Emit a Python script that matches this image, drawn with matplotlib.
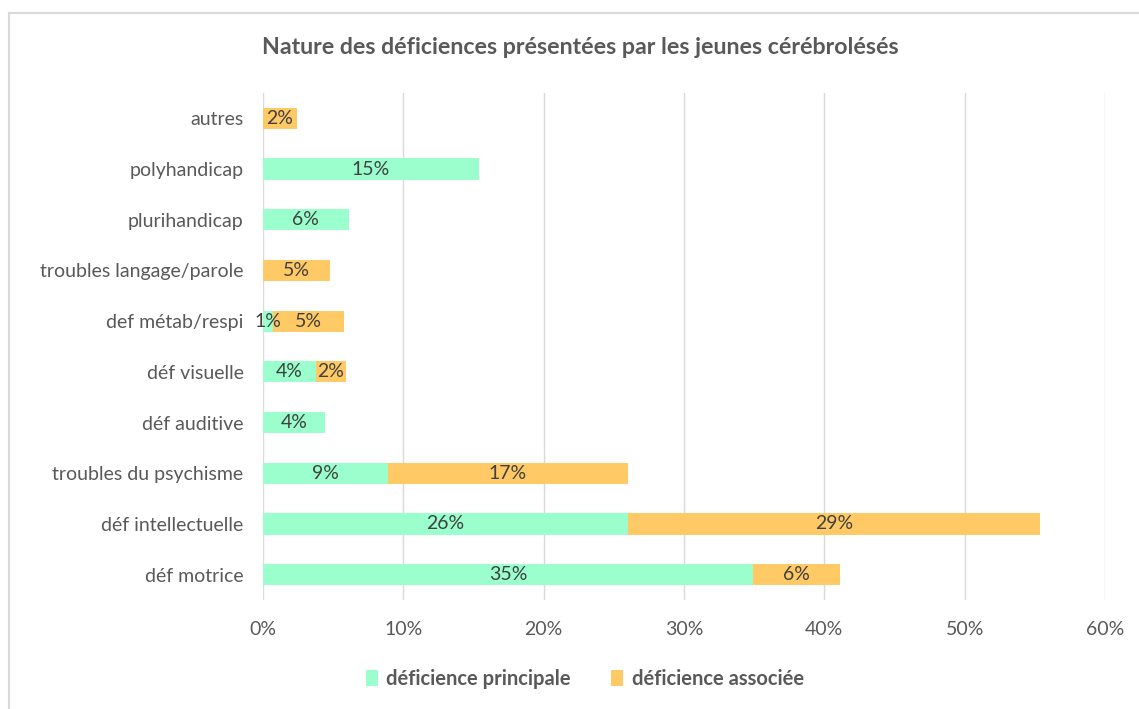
import matplotlib
matplotlib.use('Agg')
import matplotlib.pyplot as plt
import matplotlib.lines as mlines
import numpy as np

plt.rcParams['font.family'] = ['Lato', 'DejaVu Sans']

# categories from bottom to top
categories = ['déf motrice', 'déf intellectuelle', 'troubles du psychisme', 'déf auditive',
              'déf visuelle', 'def métab/respi', 'troubles langage/parole', 'plurihandicap',
              'polyhandicap', 'autres']
principale = [34.9, 26.0, 8.9, 4.4, 3.8, 0.7, 0.0, 6.1, 15.4, 0.0]
associee = [6.2, 29.4, 17.1, 0.0, 2.1, 5.1, 4.8, 0.0, 0.0, 2.4]
x_ticks = [0, 10, 20, 30, 40, 50, 60]

green = '#9affcc'
orange = '#ffca66'
txt = '#595959'

W, H = 1139, 709
fig = plt.figure(figsize=(W / 100, H / 100), dpi=100)
ax = fig.add_axes([263 / W, 1 - 600 / H, (1105 - 263) / W, (600 - 93) / H])

y = np.arange(len(categories))
b1 = ax.barh(y, principale, height=0.42, color=green, label='déficience principale')
b2 = ax.barh(y, associee, left=principale, height=0.42, color=orange, label='déficience associée')

for bars, vals in ((b1, principale), (b2, associee)):
    for rect, v in zip(bars, vals):
        if v <= 0:
            continue
        cx = rect.get_x() + rect.get_width() / 2
        ax.text(cx, rect.get_y() + rect.get_height() / 2, f'{round(v):d}%',
                ha='center', va='center', fontsize=14, color='#404040')

ax.set_xlim(0, 60)
ax.set_ylim(-0.5, len(categories) - 0.5)
ax.set_xticks(x_ticks)
ax.set_xticklabels([f'{t}%' for t in x_ticks])
ax.set_yticks(y)
ax.set_yticklabels(categories)
ax.tick_params(axis='both', length=0, labelsize=14, labelcolor=txt)
ax.tick_params(axis='y', pad=14)
ax.tick_params(axis='x', pad=15)
ax.xaxis.grid(True, color='#d9d9d9', linewidth=1)
ax.set_axisbelow(True)
for s in ax.spines.values():
    s.set_visible(False)

fig.text(580 / W, 1 - 48 / H, 'Nature des déficiences présentées par les jeunes cérébrolésés',
         ha='center', va='center', fontsize=16.7, fontweight='bold', color=txt)

leg = fig.legend(handles=[b1, b2], loc='center', bbox_to_anchor=(585 / W, 1 - 679 / H),
                 ncol=2, frameon=False, handlelength=0.6, handleheight=0.8,
                 columnspacing=2.0, handletextpad=0.4,
                 prop={'size': 14.5, 'weight': 'bold'})
for t in leg.get_texts():
    t.set_color(txt)

# outer frame
fig.add_artist(mlines.Line2D([9 / W, 9 / W], [0, 1 - 13 / H], color='#d9d9d9', linewidth=1.5,
                             transform=fig.transFigure))
fig.add_artist(mlines.Line2D([9 / W, 1], [1 - 13 / H, 1 - 13 / H], color='#d9d9d9', linewidth=1.5,
                             transform=fig.transFigure))

fig.savefig('out.png', dpi=100, facecolor='white')
